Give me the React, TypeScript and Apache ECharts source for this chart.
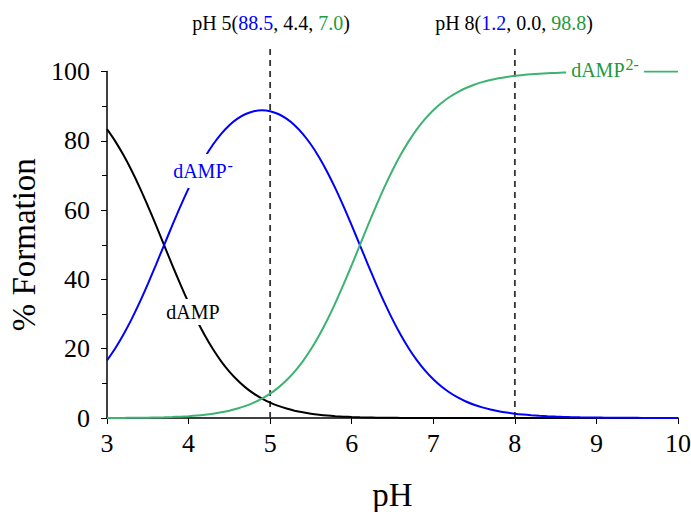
import React, { useEffect, useRef } from "react";
import * as echarts from "echarts";

const pH = [3.0, 3.1, 3.2, 3.3, 3.4, 3.5, 3.6, 3.7, 3.8, 3.9, 4.0, 4.1, 4.2, 4.3, 4.4, 4.5, 4.6, 4.7, 4.8, 4.9, 5.0, 5.1, 5.2, 5.3, 5.4, 5.5, 5.6, 5.7, 5.8, 5.9, 6.0, 6.1, 6.2, 6.3, 6.4, 6.5, 6.6, 6.7, 6.8, 6.9, 7.0, 7.1, 7.2, 7.3, 7.4, 7.5, 7.6, 7.7, 7.8, 7.9, 8.0, 8.1, 8.2, 8.3, 8.4, 8.5, 8.6, 8.7, 8.8, 8.9, 9.0, 9.1, 9.2, 9.3, 9.4, 9.5, 9.6, 9.7, 9.8, 9.9, 10.0];
const dAMP = [83.35, 79.91, 75.95, 71.49, 66.57, 61.25, 55.65, 49.9, 44.15, 38.54, 33.21, 28.27, 23.8, 19.82, 16.36, 13.39, 10.88, 8.77, 7.03, 5.6, 4.44, 3.49, 2.73, 2.12, 1.64, 1.25, 0.95, 0.71, 0.53, 0.39, 0.28, 0.2, 0.14, 0.1, 0.07, 0.05, 0.03, 0.02, 0.01, 0.01, 0.01, 0, 0, 0, 0, 0, 0, 0, 0, 0, 0, 0, 0, 0, 0, 0, 0, 0, 0, 0, 0, 0, 0, 0, 0, 0, 0, 0, 0, 0, 0];
const dAMPminus = [16.63, 20.07, 24.02, 28.46, 33.36, 38.65, 44.21, 49.9, 55.58, 61.08, 66.26, 71.02, 75.26, 78.92, 82.0, 84.49, 86.39, 87.73, 88.53, 88.8, 88.54, 87.73, 86.39, 84.49, 82.0, 78.92, 75.26, 71.02, 66.26, 61.08, 55.58, 49.9, 44.21, 38.65, 33.36, 28.46, 24.02, 20.07, 16.63, 13.68, 11.18, 9.09, 7.36, 5.94, 4.77, 3.83, 3.07, 2.45, 1.96, 1.56, 1.24, 0.99, 0.79, 0.63, 0.5, 0.4, 0.32, 0.25, 0.2, 0.16, 0.13, 0.1, 0.08, 0.06, 0.05, 0.04, 0.03, 0.03, 0.02, 0.02, 0.01];
const dAMP2minus = [0.01, 0.02, 0.03, 0.05, 0.07, 0.1, 0.14, 0.2, 0.28, 0.39, 0.53, 0.71, 0.95, 1.25, 1.64, 2.12, 2.73, 3.49, 4.44, 5.6, 7.03, 8.77, 10.88, 13.39, 16.36, 19.82, 23.8, 28.27, 33.21, 38.54, 44.15, 49.9, 55.65, 61.25, 66.57, 71.49, 75.95, 79.91, 83.35, 86.31, 88.81, 90.91, 92.64, 94.06, 95.23, 96.17, 96.93, 97.55, 98.04, 98.44, 98.76, 99.01, 99.21, 99.37, 99.5, 99.6, 99.68, 99.75, 99.8, 99.84, 99.87, 99.9, 99.92, 99.94, 99.95, 99.96, 99.97, 99.97, 99.98, 99.98, 99.99];
const markers = [5, 8];
const markerTop = 107.5;

const FONT = "Liberation Serif";
const BLUE = "#0000ff";
const GREEN = "#3cb371";
const GREEN_TEXT = "#229a3c";

export default function App() {
  const ref = useRef<HTMLDivElement>(null);
  useEffect(() => {
    if (!ref.current) return;
    const chart = echarts.init(ref.current, undefined, { renderer: "svg" });
    const mk = (vals: number[]) => pH.map((x, i) => [x, vals[i]]);
    const rich = {
      k: { fontFamily: FONT, fontSize: 20, fill: "#000" },
      b: { fontFamily: FONT, fontSize: 20, fill: BLUE },
      g: { fontFamily: FONT, fontSize: 20, fill: GREEN_TEXT },
    };
    const dashSeries = markers.map((m) => ({
      type: "line",
      data: [
        [m, 0],
        [m, markerTop],
      ],
      showSymbol: false,
      clip: false,
      silent: true,
      lineStyle: { color: "#333", type: [6, 5], width: 1.8 },
      itemStyle: { color: "#333" },
      z: 2,
    }));
    chart.setOption({
      animation: false,
      backgroundColor: "#fff",
      grid: { left: 107, right: 13, top: 71.5, bottom: 94, containLabel: false, outerBoundsMode: "none" },
      xAxis: {
        type: "value",
        min: 3,
        max: 10,
        interval: 1,
        name: "pH",
        nameLocation: "middle",
        nameGap: 60,
        nameTextStyle: { fontFamily: FONT, fontSize: 33, color: "#000" },
        axisLine: { show: true, lineStyle: { color: "#000", width: 1.5 } },
        axisTick: { show: true, length: 6, lineStyle: { color: "#000", width: 1 } },
        axisLabel: { fontFamily: FONT, fontSize: 26, color: "#000", margin: 12 },
        splitLine: { show: false },
      },
      yAxis: {
        type: "value",
        min: 0,
        max: 100,
        interval: 20,
        name: "% Formation",
        nameLocation: "middle",
        nameGap: 63,
        nameTextStyle: { fontFamily: FONT, fontSize: 33, color: "#000" },
        axisLine: { show: true, lineStyle: { color: "#000", width: 1.5 } },
        axisTick: { show: true, length: 6, lineStyle: { color: "#000", width: 1 } },
        minorTick: { show: true, splitNumber: 2, length: 5, lineStyle: { color: "#000", width: 1 } },
        axisLabel: { fontFamily: FONT, fontSize: 26, color: "#000", margin: 17 },
        splitLine: { show: false },
      },
      series: [
        ...dashSeries,
        {
          type: "line",
          data: mk(dAMP),
          smooth: 0.3,
          showSymbol: false,
          lineStyle: { color: "#000", width: 2 },
          itemStyle: { color: "#000" },
          z: 3,
        },
        {
          type: "line",
          data: mk(dAMPminus),
          smooth: 0.3,
          showSymbol: false,
          lineStyle: { color: BLUE, width: 2 },
          itemStyle: { color: BLUE },
          z: 3,
        },
        {
          type: "line",
          data: mk(dAMP2minus),
          smooth: 0.3,
          showSymbol: false,
          lineStyle: { color: GREEN, width: 2 },
          itemStyle: { color: GREEN },
          z: 3,
        },
      ],
      graphic: [
        {
          type: "text",
          x: 271,
          y: 23,
          style: {
            text: "{k|pH 5(}{b|88.5}{k|, 4.4, }{g|7.0}{k|)}",
            align: "center",
            verticalAlign: "middle",
            rich,
          },
          z: 10,
        },
        {
          type: "text",
          x: 514,
          y: 23,
          style: {
            text: "{k|pH 8(}{b|1.2}{k|, 0.0, }{g|98.8}{k|)}",
            align: "center",
            verticalAlign: "middle",
            rich,
          },
          z: 10,
        },
        {
          type: "text",
          x: 203,
          y: 171,
          style: {
            text: "{t|dAMP}{s|-}",
            align: "center",
            verticalAlign: "middle",
            backgroundColor: "#fff",
            padding: [3, 4, 3, 4],
            rich: {
              t: { fontFamily: FONT, fontSize: 20, fill: BLUE },
              s: { fontFamily: FONT, fontSize: 16, fill: BLUE, padding: [0, 0, 12, 1] },
            },
          },
          z: 10,
        },
        {
          type: "text",
          x: 193,
          y: 312,
          style: {
            text: "dAMP",
            font: `20px "${FONT}"`,
            fill: "#000",
            align: "center",
            verticalAlign: "middle",
            backgroundColor: "#fff",
            padding: [3, 4, 3, 4],
          },
          z: 10,
        },
        {
          type: "text",
          x: 605,
          y: 70,
          style: {
            text: "{t|dAMP}{s|2-}",
            align: "center",
            verticalAlign: "middle",
            backgroundColor: "#fff",
            padding: [3, 5, 3, 5],
            rich: {
              t: { fontFamily: FONT, fontSize: 20, fill: GREEN_TEXT },
              s: { fontFamily: FONT, fontSize: 16, fill: GREEN_TEXT, padding: [0, 0, 12, 1] },
            },
          },
          z: 10,
        },
      ],
    });
    return () => chart.dispose();
  }, []);
  return <div ref={ref} style={{ position: "absolute", left: 0, top: 0, width: 691, height: 512 }} />;
}
